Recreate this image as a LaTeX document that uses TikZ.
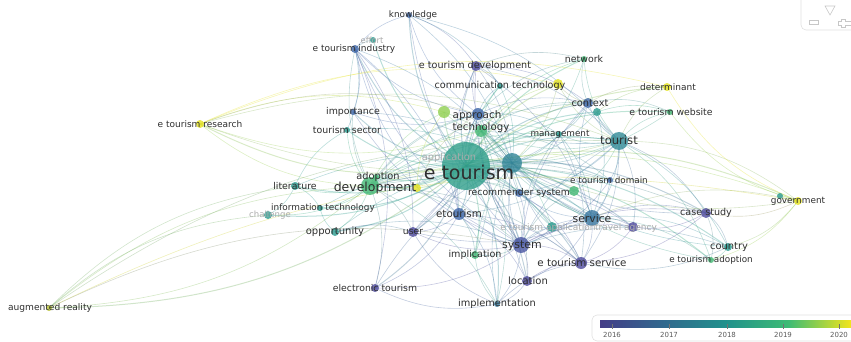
\documentclass[tikz,border=0pt]{standalone}
\usepackage{fontspec}
\setmainfont{DejaVu Sans}
\pgfdeclarelayer{edgelayer}
\pgfsetlayers{edgelayer,main}
\definecolor{vpur}{HTML}{4E4A9C}
\definecolor{vblu}{HTML}{3E66A8}
\definecolor{vtea}{HTML}{2A9A8E}
\definecolor{vgre}{HTML}{43B874}
\definecolor{vlgr}{HTML}{90D050}
\definecolor{vyel}{HTML}{E4E21E}
\definecolor{voli}{HTML}{B5BE2E}
\definecolor{labtxt}{HTML}{2E2E2E}
\definecolor{labfade}{HTML}{ABABAB}
\definecolor{bar0}{HTML}{443D87}
\definecolor{bar1}{HTML}{31688E}
\definecolor{bar2}{HTML}{21918C}
\definecolor{bar3}{HTML}{3DBB74}
\definecolor{bar4}{HTML}{F2E51C}
\pgfdeclarehorizontalshading{viridisbar}{100bp}{color(0bp)=(bar0); color(25bp)=(bar0); color(37.5bp)=(bar1); color(50bp)=(bar2); color(62.5bp)=(bar3); color(75bp)=(bar4); color(100bp)=(bar4)}
\newcommand{\vosnode}[5]{\colorlet{c-#1}{#5}\node[vdot, minimum size=#4*2pt, fill=#5] (#1) at (#2,#3) {};}
\tikzset{
  vdot/.style={circle, inner sep=0pt, draw=none, fill opacity=0.8},
  vlab/.style={inner sep=0pt, anchor=center},
  vedge/.style={line width=0.6pt, draw opacity=0.32},
  hubedge/.style={line width=1pt, draw opacity=0.32},
  year/.style={font=\fontsize{7}{7}\selectfont, text=black!65, inner sep=0pt},
  uibox/.style={draw=black!12, line width=0.6pt, rounded corners=5pt},
  uisym/.style={draw=black!22, line width=0.6pt}
}
\begin{document}
\begin{tikzpicture}[x=1pt, y=-1pt]
\useasboundingbox (0,0) rectangle (851,342);
% nodes (circles)
\vosnode{know}{409}{15}{3}{vblu}
\vosnode{effort}{373}{40}{3}{vtea}
\vosnode{etind}{355}{49}{4}{vblu}
\vosnode{etdev}{476}{66}{5}{vpur}
\vosnode{comtech}{500}{86}{3}{vtea}
\vosnode{yelA}{558}{84}{5}{vyel}
\vosnode{network}{584}{59}{3}{vgre}
\vosnode{determ}{667}{87}{4}{vyel}
\vosnode{context}{588}{103}{5}{vblu}
\vosnode{ctxB}{597}{112}{4}{vtea}
\vosnode{etweb}{670}{112}{3}{vgre}
\vosnode{import}{353}{112}{3}{vblu}
\vosnode{approach}{478}{114}{6}{vblu}
\vosnode{lgreen}{444}{112}{6}{vlgr}
\vosnode{techno}{481}{131}{6}{vgre}
\vosnode{tsector}{347}{130}{3}{vtea}
\vosnode{manage}{559}{134}{3}{vtea}
\vosnode{tourist}{619}{141}{9}{vtea!70!vblu}
\vosnode{etour}{466}{166}{24}{vtea!85!vgre}
\vosnode{etourB}{512}{163}{10}{vtea!60!vblu}
\vosnode{adopt}{376}{177}{3}{vgre}
\vosnode{lit}{295}{186}{4}{vtea}
\vosnode{devel}{370}{186}{9}{vgre}
\vosnode{yelB}{417}{188}{4}{vyel}
\vosnode{recsys}{519}{193}{4}{vblu}
\vosnode{greenB}{574}{191}{5}{vgre}
\vosnode{etdom}{610}{180}{3}{vblu}
\vosnode{infotech}{320}{208}{3}{vtea}
\vosnode{chal}{268}{215}{4}{vtea}
\vosnode{etourism}{459}{214}{6}{vblu}
\vosnode{service}{592}{218}{8}{vblu!70!vtea}
\vosnode{casest}{706}{213}{5}{vpur}
\vosnode{govt}{798}{201}{4}{vyel}
\vosnode{govtB}{780}{196}{3}{vtea}
\vosnode{opport}{335}{232}{4}{vtea}
\vosnode{user}{413}{232}{5}{vpur}
\vosnode{etapp}{552}{227}{5}{vtea}
\vosnode{travel}{633}{227}{5}{vpur}
\vosnode{system}{521}{245}{8}{vpur!60!vblu}
\vosnode{implic}{475}{255}{4}{vgre}
\vosnode{country}{728}{247}{4}{vtea}
\vosnode{etadopt}{711}{260}{3}{vgre}
\vosnode{etserv}{581}{263}{6}{vpur}
\vosnode{location}{527}{281}{5}{vpur}
\vosnode{electour}{375}{288}{4}{vpur}
\vosnode{implem}{497}{304}{3}{vblu!60!vtea}
\vosnode{etres}{200}{124}{4}{vyel}
\vosnode{augm}{49}{308}{3}{voli}
% edges
\begin{pgfonlayer}{edgelayer}
\foreach \b in {know,effort,etind,etdev,comtech,yelA,network,determ,context,ctxB,etweb,import,approach,lgreen,techno,tsector,manage,tourist,adopt,lit,devel,yelB,recsys,greenB,etdom,infotech,chal,etourism,service,casest,govt,opport,user,etapp,travel,system,implic,country,etadopt,etserv,location,electour,implem,etres,augm}
  \draw[hubedge, draw=c-etour!50!c-\b] (etour.center) to[bend left=18] (\b.center);
\foreach \b in {know,etind,etdev,comtech,yelA,network,context,ctxB,etweb,import,approach,lgreen,techno,tsector,manage,tourist,adopt,lit,devel,recsys,greenB,etdom,infotech,etourism,service,casest,govt,opport,user,etapp,travel,system,implic,country,etadopt,etserv,location,electour,implem}
  \draw[vedge, draw=c-etourB!50!c-\b] (etourB.center) to[bend right=16] (\b.center);
\foreach \a/\b in {
  devel/etind, devel/import, devel/tsector, devel/lit, devel/infotech, devel/chal, devel/opport, devel/approach, devel/techno, devel/lgreen, devel/tourist, devel/system, devel/service, devel/govt, devel/etres, devel/augm, devel/electour, devel/implem, devel/manage, devel/context, devel/recsys, devel/etourism, devel/user, devel/adopt, devel/etserv, devel/casest, devel/etdom,
  system/etind, system/etdev, system/know, system/user, system/etourism, system/electour, system/location, system/etserv, system/service, system/casest, system/country, system/travel, system/tourist, system/approach, system/implem, system/implic, system/import, system/techno, system/context, system/manage, system/etapp, system/greenB,
  tourist/context, tourist/network, tourist/determ, tourist/etweb, tourist/govt, tourist/casest, tourist/service, tourist/recsys, tourist/etdom, tourist/manage, tourist/approach, tourist/techno, tourist/etserv, tourist/country, tourist/etres, tourist/ctxB, tourist/yelA, tourist/greenB, tourist/travel, tourist/etourism, tourist/etadopt,
  service/travel, service/etserv, service/casest, service/govt, service/country, service/etadopt, service/location, service/etapp, service/recsys, service/approach, service/techno, service/context, service/etourism, service/user,
  etourism/user, etourism/electour, etourism/etserv, etourism/location, etourism/etind, etourism/approach, etourism/etdev, etourism/implic, etourism/implem, etourism/techno,
  approach/comtech, approach/etdev, approach/know, approach/etind, approach/import, approach/network, approach/context, approach/manage, approach/user, approach/implic,
  techno/comtech, techno/yelA, techno/lgreen, techno/etres, techno/network, techno/manage, techno/context, techno/etdom, techno/recsys, techno/etapp, techno/implem, techno/location,
  govt/govtB, govt/casest, govt/country, govt/etadopt, govt/etweb, govt/determ, augm/govt,
  augm/devel, augm/tourist, augm/system, augm/lit, augm/chal,
  etres/lgreen, etres/yelA, etres/approach, etres/tourist, etres/determ,
  etind/effort, etind/know, etind/import, etind/tsector, etind/etourism, etind/electour, etind/user,
  know/etdev, know/comtech, know/tourist, etdev/comtech, etdev/network, etdev/context, etdev/tourist, etdev/service,
  context/network, context/determ, context/etweb, context/yelA, context/manage, ctxB/etweb, ctxB/determ, ctxB/service,
  casest/travel, casest/country, casest/etserv, casest/etadopt, country/etadopt, country/etserv,
  location/etserv, location/implem, implem/implic, implem/user, implem/electour, implem/etserv,
  lit/infotech, lit/chal, lit/tsector, opport/infotech, opport/user, opport/system,
  recsys/etserv, recsys/system, greenB/service, etdom/service, etdom/system, travel/etserv, etapp/system, etapp/etserv, recsys/travel, manage/service, manage/etserv, yelB/lgreen, yelB/approach, adopt/approach}
  \draw[vedge, draw=c-\a!50!c-\b] (\a.center) to[bend left=18] (\b.center);
\end{pgfonlayer}
% labels
\node[vlab, font=\fontsize{8.9}{8.9}\selectfont, text=labtxt] (l-know) at (413,15) {knowledge};
\node[vlab, font=\fontsize{8.4}{8.4}\selectfont, text=labfade] (l-effort) at (372,40) {effort};
\node[vlab, font=\fontsize{9}{9}\selectfont, text=labtxt] (l-etind) at (354,49) {e tourism industry};
\node[vlab, font=\fontsize{9.6}{9.6}\selectfont, text=labtxt] (l-etdev) at (475,66) {e tourism development};
\node[vlab, font=\fontsize{9.6}{9.6}\selectfont, text=labtxt] (l-comtech) at (500,86) {communication technology};
\node[vlab, font=\fontsize{9.4}{9.4}\selectfont, text=labtxt] (l-network) at (584,59) {network};
\node[vlab, font=\fontsize{9}{9}\selectfont, text=labtxt] (l-determ) at (668,87) {determinant};
\node[vlab, font=\fontsize{9.8}{9.8}\selectfont, text=labtxt] (l-context) at (590,103) {context};
\node[vlab, font=\fontsize{9.3}{9.3}\selectfont, text=labtxt] (l-etweb) at (671,112) {e tourism website};
\node[vlab, font=\fontsize{9.4}{9.4}\selectfont, text=labtxt] (l-import) at (353,112) {importance};
\node[vlab, font=\fontsize{10.4}{10.4}\selectfont, text=labtxt] (l-approach) at (477,116) {approach};
\node[vlab, font=\fontsize{10.2}{10.2}\selectfont, text=labtxt] (l-techno) at (481,128) {technology};
\node[vlab, font=\fontsize{9.4}{9.4}\selectfont, text=labtxt] (l-tsector) at (347,130) {tourism sector};
\node[vlab, font=\fontsize{8.8}{8.8}\selectfont, text=labtxt] (l-manage) at (560,134) {management};
\node[vlab, font=\fontsize{11.6}{11.6}\selectfont, text=labtxt] (l-tourist) at (619,140) {tourist};
\node[vlab, font=\fontsize{9.8}{9.8}\selectfont, text=labfade] (l-app) at (449,158) {application};
\node[vlab, font=\fontsize{19}{19}\selectfont, text=labtxt] (l-etour) at (469,172) {e tourism};
\node[vlab, font=\fontsize{9.8}{9.8}\selectfont, text=labtxt] (l-adopt) at (378,177) {adoption};
\node[vlab, font=\fontsize{9.4}{9.4}\selectfont, text=labtxt] (l-lit) at (295,186) {literature};
\node[vlab, font=\fontsize{12.5}{12.5}\selectfont, text=labtxt] (l-devel) at (375,188) {development};
\node[vlab, font=\fontsize{9.3}{9.3}\selectfont, text=labtxt] (l-recsys) at (519,193) {recommender system};
\node[vlab, font=\fontsize{8.8}{8.8}\selectfont, text=labtxt] (l-etdom) at (609,180) {e tourism domain};
\node[vlab, font=\fontsize{8.9}{8.9}\selectfont, text=labtxt] (l-infotech) at (323,208) {information technology};
\node[vlab, font=\fontsize{8.6}{8.6}\selectfont, text=labfade] (l-chal) at (270,215) {challenge};
\node[vlab, font=\fontsize{10.3}{10.3}\selectfont, text=labtxt] (l-etourism) at (459,214) {etourism};
\node[vlab, font=\fontsize{10.8}{10.8}\selectfont, text=labtxt] (l-service) at (592,218) {service};
\node[vlab, font=\fontsize{9.6}{9.6}\selectfont, text=labtxt] (l-casest) at (706,213) {case study};
\node[vlab, font=\fontsize{8.9}{8.9}\selectfont, text=labtxt] (l-govt) at (798,201) {government};
\node[vlab, font=\fontsize{10}{10}\selectfont, text=labtxt] (l-opport) at (335,232) {opportunity};
\node[vlab, font=\fontsize{9.2}{9.2}\selectfont, text=labtxt] (l-user) at (413,232) {user};
\node[vlab, font=\fontsize{9}{9}\selectfont, text=labfade] (l-etapp) at (548,228) {e tourism application};
\node[vlab, font=\fontsize{9}{9}\selectfont, text=labfade] (l-travel) at (626,228) {travel agency};
\node[vlab, font=\fontsize{11}{11}\selectfont, text=labtxt] (l-system) at (522,246) {system};
\node[vlab, font=\fontsize{9.6}{9.6}\selectfont, text=labtxt] (l-implic) at (475,255) {implication};
\node[vlab, font=\fontsize{9.9}{9.9}\selectfont, text=labtxt] (l-country) at (729,247) {country};
\node[vlab, font=\fontsize{8.8}{8.8}\selectfont, text=labtxt] (l-etadopt) at (711,260) {e tourism adoption};
\node[vlab, font=\fontsize{10.3}{10.3}\selectfont, text=labtxt] (l-etserv) at (582,263) {e tourism service};
\node[vlab, font=\fontsize{10}{10}\selectfont, text=labtxt] (l-location) at (528,281) {location};
\node[vlab, font=\fontsize{9.3}{9.3}\selectfont, text=labtxt] (l-electour) at (375,288) {electronic tourism};
\node[vlab, font=\fontsize{9.8}{9.8}\selectfont, text=labtxt] (l-implem) at (497,304) {implementation};
\node[vlab, font=\fontsize{9}{9}\selectfont, text=labtxt] (l-etres) at (200,124) {e tourism research};
\node[vlab, font=\fontsize{9.1}{9.1}\selectfont, text=labtxt] (l-augm) at (50,308) {augmented reality};
% legend
\begin{scope}
\clip (0,0) rectangle (851,342);
\draw[uibox] (592,315) rectangle (880,341);
\shade[shading=viridisbar] (600,320) rectangle (851,327);
\foreach \x/\yr in {612/2016,669/2017,727/2018,783/2019,839/2020}{
  \draw[black!55, line width=0.5pt] (\x,324) -- (\x,329);
  \node[year] (yr\yr) at (\x,335) {\yr};
}
% top-right toolbar
\draw[uibox] (801,-10) rectangle (880,30);
\draw[uisym] (825,6) -- (835,6) -- (830,15) -- cycle;
\draw[uisym] (809,20.5) rectangle (818,24.5);
\draw[uisym] (841,19) -- (845,19) -- (845,21) -- (851,21) -- (851,25) -- (845,25) -- (845,27) -- (841,27) -- (841,25) -- (838,25) -- (838,21) -- (841,21) -- cycle;
\end{scope}
\end{tikzpicture}
\end{document}
